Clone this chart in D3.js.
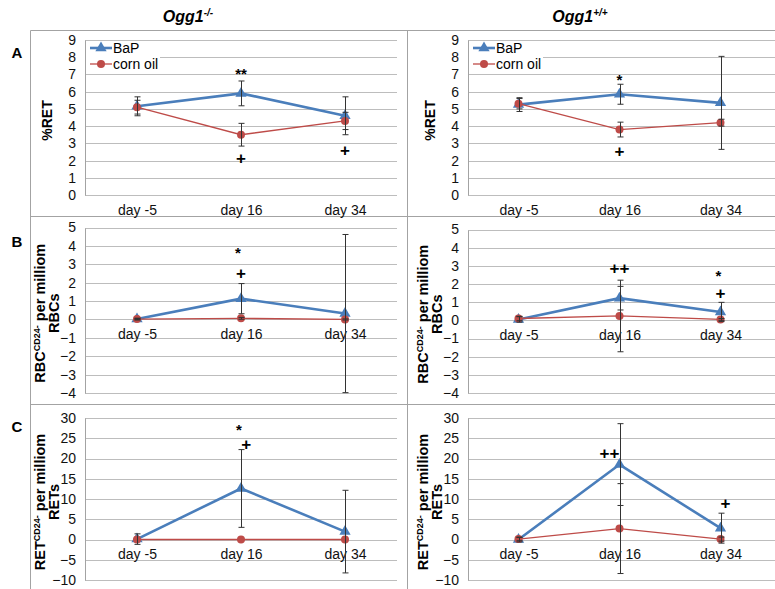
<!DOCTYPE html>
<html>
<head>
<meta charset="utf-8">
<script src="https://cdn.jsdelivr.net/npm/d3@7"></script>
<style>
  body { margin: 0; background: #fff; }
  svg text { font-family: "Liberation Sans", Arial, sans-serif; }
</style>
</head>
<body>
<div id="chart"></div>
<script>
// categories
const days = ["day -5", "day 16", "day 34"];

// tick labels
const retTicks = [0, 1, 2, 3, 4, 5, 6, 7, 8, 9];
const rbcTicks = [-4, -3, -2, -1, 0, 1, 2, 3, 4, 5];
const retCdTicks = [-10, -5, 0, 5, 10, 15, 20, 25, 30];

// A: %RET
const retKoBaP = [5.15, 5.9, 4.6];
const retKoBaPErr = [0.55, 0.72, 1.1];
const retKoOil = [5.1, 3.5, 4.3];
const retKoOilErr = [0.4, 0.66, 0.5];
const retWtBaP = [5.25, 5.85, 5.35];
const retWtBaPErr = [0.4, 0.58, 2.7];
const retWtOil = [5.3, 3.8, 4.2];
const retWtOilErr = [0.3, 0.43, 0.2];

// B: RBC CD24- per million RBCs
const rbcKoBaP = [0.02, 1.13, 0.32];
const rbcKoBaPErr = [0.05, 0.82, 4.3];
const rbcKoOil = [0.02, 0.06, 0.0];
const rbcKoOilErr = [0.03, 0.05, 0.03];
const rbcWtBaP = [0.05, 1.22, 0.46];
const rbcWtBaPErr = [0.15, 0.65, 0.53];
const rbcWtOil = [0.1, 0.24, 0.05];
const rbcWtOilErr = [0.12, 1.97, 0.05];

// C: RET CD24- per million RETs
const retCdKoBaP = [0.1, 12.6, 1.95];
const retCdKoBaPErr = [1.3, 9.6, 10.2];
const retCdKoOil = [0, 0, 0];
const retCdKoOilErr = [0, 0, 0];
const retCdWtBaP = [0, 18.5, 2.8];
const retCdWtBaPErr = [0.6, 10.1, 3.7];
const retCdWtOil = [0.1, 2.7, 0.1];
const retCdWtOilErr = [0.4, 11.1, 0.5];

// significance marks: [day index, y value, text, x shift in day units]
const retKoNotes = [[1, 7.2, "**", 0], [1, 2.15, "+", 0], [2, 2.6, "+", 0]];
const retWtNotes = [[1, 6.85, "*", 0], [1, 2.55, "+", 0]];
const rbcKoNotes = [[1, 3.75, "*", -0.03], [1, 2.55, "+", 0]];
const rbcWtNotes = [[1, 2.9, "++", 0], [2, 2.6, "*", -0.02], [2, 1.5, "+", 0]];
const retCdKoNotes = [[1, 27.7, "*", -0.02], [1, 23.6, "+", 0.05]];
const retCdWtNotes = [[1, 21.3, "++", -0.1], [2, 8.9, "+", 0.05]];

const width = 775;
const height = 589;
const blue = "#4A7EBB";
const red = "#BE4B48";
const gridColor = "#bdbdbd";
const frameColor = "#a3a3a3";

const svg = d3.select('#chart')
  .append('svg')
  .attr('width', width)
  .attr('height', height);

// table frame
const frame = svg.append('g')
  .attr('stroke', frameColor)
  .attr('stroke-width', 1);
frame.append('line').attr('x1', 30.5).attr('x2', 30.5).attr('y1', 30.5).attr('y2', height);
frame.append('line').attr('x1', 407.5).attr('x2', 407.5).attr('y1', 30.5).attr('y2', height);
[30.5, 216.5, 404.5].forEach(y => {
  frame.append('line').attr('x1', 30.5).attr('x2', width).attr('y1', y).attr('y2', y);
});

// column titles
[["Ogg1", "-/-", 188], ["Ogg1", "+/+", 580]].forEach(([t, sup, x]) => {
  const txt = svg.append('text')
    .attr('x', x)
    .attr('y', 22)
    .attr('text-anchor', 'middle')
    .attr('font-size', '16px')
    .attr('font-weight', 'bold')
    .attr('font-style', 'italic')
    .text(t);
  txt.append('tspan')
    .attr('font-size', '10px')
    .attr('dy', -6)
    .text(sup);
});

// row letters
[["A", 58], ["B", 247], ["C", 432]].forEach(([t, y]) => {
  svg.append('text')
    .attr('x', 17)
    .attr('y', y)
    .attr('text-anchor', 'middle')
    .attr('font-size', '15px')
    .attr('font-weight', 'bold')
    .text(t);
});

const panels = [
  { x0: 85, x1: 397, gx1: 397, top: 40, bottom: 195, ticks: retTicks, title: ["%RET"],
    bap: retKoBaP, bapErr: retKoBaPErr, oil: retKoOil, oilErr: retKoOilErr, notes: retKoNotes, legend: true },
  { x0: 468, x1: 771, gx1: 775, top: 40, bottom: 195, ticks: retTicks, title: ["%RET"],
    bap: retWtBaP, bapErr: retWtBaPErr, oil: retWtOil, oilErr: retWtOilErr, notes: retWtNotes, legend: true },
  { x0: 85, x1: 397, gx1: 397, top: 227.5, bottom: 393, ticks: rbcTicks, title: ["RBC", "RBCs"],
    bap: rbcKoBaP, bapErr: rbcKoBaPErr, oil: rbcKoOil, oilErr: rbcKoOilErr, notes: rbcKoNotes },
  { x0: 468, x1: 771, gx1: 775, top: 229.5, bottom: 393, ticks: rbcTicks, title: ["RBC", "RBCs"],
    bap: rbcWtBaP, bapErr: rbcWtBaPErr, oil: rbcWtOil, oilErr: rbcWtOilErr, notes: rbcWtNotes },
  { x0: 85, x1: 397, gx1: 397, top: 418, bottom: 580, ticks: retCdTicks, title: ["RET", "RETs"],
    bap: retCdKoBaP, bapErr: retCdKoBaPErr, oil: retCdKoOil, oilErr: retCdKoOilErr, notes: retCdKoNotes },
  { x0: 468, x1: 771, gx1: 775, top: 418, bottom: 580, ticks: retCdTicks, title: ["RET", "RETs"],
    bap: retCdWtBaP, bapErr: retCdWtBaPErr, oil: retCdWtOil, oilErr: retCdWtOilErr, notes: retCdWtNotes }
];

panels.forEach(drawPanel);

function drawPanel(p) {
  const g = svg.append('g');

  const x = d3.scalePoint()
    .domain(days)
    .range([p.x0, p.x1])
    .padding(0.5);
  const step = x.step();

  const y = d3.scaleLinear()
    .domain(d3.extent(p.ticks))
    .range([p.bottom, p.top]);

  // gridlines
  g.append('g')
    .selectAll('line')
    .data(p.ticks)
    .enter()
    .append('line')
    .attr('x1', p.x0)
    .attr('x2', p.gx1)
    .attr('y1', d => Math.round(y(d)) + 0.5)
    .attr('y2', d => Math.round(y(d)) + 0.5)
    .attr('stroke', gridColor)
    .attr('stroke-width', 1);

  // left axis line
  g.append('line')
    .attr('x1', p.x0 + 0.5).attr('x2', p.x0 + 0.5)
    .attr('y1', Math.round(y(p.ticks[p.ticks.length - 1])) + 0.5)
    .attr('y2', Math.round(y(p.ticks[0])) + 0.5)
    .attr('stroke', frameColor);

  // y tick labels
  const yAxis = g.append('g')
    .attr('transform', `translate(${p.x0},0)`)
    .call(d3.axisLeft(y).tickValues(p.ticks).tickSize(0).tickPadding(9));
  yAxis.select('.domain').remove();
  yAxis.selectAll('text')
    .attr('font-family', '"Liberation Sans", Arial, sans-serif')
    .attr('font-size', '14px')
    .attr('fill', '#111');

  // category labels sit under the zero line
  const xAxis = g.append('g')
    .attr('transform', `translate(0,${y(0)})`)
    .call(d3.axisBottom(x).tickSize(0).tickPadding(10));
  xAxis.select('.domain').remove();
  xAxis.selectAll('text')
    .attr('font-family', '"Liberation Sans", Arial, sans-serif')
    .attr('font-size', '14px')
    .attr('fill', '#111');

  // y title
  const cy = (p.top + p.bottom) / 2 + 3;
  if (p.title.length === 1) {
    g.append('text')
      .attr('transform', `translate(${p.x0 - 33},${cy}) rotate(-90)`)
      .attr('text-anchor', 'middle')
      .attr('font-size', '14px')
      .attr('font-weight', 'bold')
      .text(p.title[0]);
  } else {
    const t1 = g.append('text')
      .attr('transform', `translate(${p.x0 - 40},${cy}) rotate(-90)`)
      .attr('text-anchor', 'middle')
      .attr('font-size', '14.5px')
      .attr('font-weight', 'bold')
      .text(p.title[0]);
    t1.append('tspan').attr('font-size', '9px').attr('dy', -5).text('CD24-');
    t1.append('tspan').attr('dy', 5).text(' per milliom');
    g.append('text')
      .attr('transform', `translate(${p.x0 - 26},${cy}) rotate(-90)`)
      .attr('text-anchor', 'middle')
      .attr('font-size', '14.5px')
      .attr('font-weight', 'bold')
      .text(p.title[1]);
  }

  const line = d3.line()
    .x((d, i) => x(days[i]))
    .y(d => y(d));

  // BaP series
  g.append('path')
    .datum(p.bap)
    .attr('d', line)
    .attr('fill', 'none')
    .attr('stroke', blue)
    .attr('stroke-width', 2.6);
  g.selectAll('.tri')
    .data(p.bap)
    .enter()
    .append('path')
    .attr('class', 'tri')
    .attr('d', d3.symbol().type(d3.symbolTriangle).size(55))
    .attr('transform', (d, i) => `translate(${x(days[i])},${y(d)})`)
    .attr('fill', blue);

  // corn oil series
  g.append('path')
    .datum(p.oil)
    .attr('d', line)
    .attr('fill', 'none')
    .attr('stroke', red)
    .attr('stroke-width', 1.3);
  g.selectAll('.dot')
    .data(p.oil)
    .enter()
    .append('circle')
    .attr('class', 'dot')
    .attr('cx', (d, i) => x(days[i]))
    .attr('cy', d => y(d))
    .attr('r', 4)
    .attr('fill', red);

  // error bars
  const errs = [];
  p.bap.forEach((v, i) => errs.push({ i, v, e: p.bapErr[i] }));
  p.oil.forEach((v, i) => errs.push({ i, v, e: p.oilErr[i] }));
  const eg = g.append('g').attr('stroke', '#333').attr('stroke-width', 1);
  errs.filter(d => d.e > 0).forEach(d => {
    const cx = Math.round(x(days[d.i])) + 0.5;
    const ya = y(d.v + d.e), yb = y(d.v - d.e);
    eg.append('line').attr('x1', cx).attr('x2', cx).attr('y1', ya).attr('y2', yb);
    eg.append('line').attr('x1', cx - 3).attr('x2', cx + 3).attr('y1', ya).attr('y2', ya);
    eg.append('line').attr('x1', cx - 3).attr('x2', cx + 3).attr('y1', yb).attr('y2', yb);
  });

  // significance marks
  g.selectAll('.note')
    .data(p.notes)
    .enter()
    .append('text')
    .attr('class', 'note')
    .attr('x', d => x(days[d[0]]) + d[3] * step)
    .attr('y', d => y(d[1]) + (d[2].includes('*') ? 8 : 6))
    .attr('text-anchor', 'middle')
    .attr('font-family', d => d[2].includes('*') ? '"DejaVu Sans", sans-serif' : null)
    .attr('font-size', d => d[2].includes('*') ? '15px' : '17px')
    .attr('font-weight', 'bold')
    .text(d => d[2]);

  // legend
  if (p.legend) {
    const lg = g.append('g');
    lg.append('rect')
      .attr('x', p.x0 + 1).attr('y', p.top + 2)
      .attr('width', 74).attr('height', 30)
      .attr('fill', '#fff');
    const items = [["BaP", blue, 2.6, 'tri'], ["corn oil", red, 1.3, 'dot']];
    items.forEach(([name, col, w, mk], k) => {
      const ly = p.top + 8 + k * 16;
      lg.append('line')
        .attr('x1', p.x0 + 5).attr('x2', p.x0 + 27)
        .attr('y1', ly).attr('y2', ly)
        .attr('stroke', col).attr('stroke-width', w);
      if (mk === 'tri') {
        lg.append('path')
          .attr('d', d3.symbol().type(d3.symbolTriangle).size(55))
          .attr('transform', `translate(${p.x0 + 16},${ly})`)
          .attr('fill', col);
      } else {
        lg.append('circle')
          .attr('cx', p.x0 + 16).attr('cy', ly).attr('r', 4)
          .attr('fill', col);
      }
      lg.append('text')
        .attr('x', p.x0 + 28)
        .attr('y', ly + 5)
        .attr('font-size', '14px')
        .text(name);
    });
  }
}
</script>
</body>
</html>
